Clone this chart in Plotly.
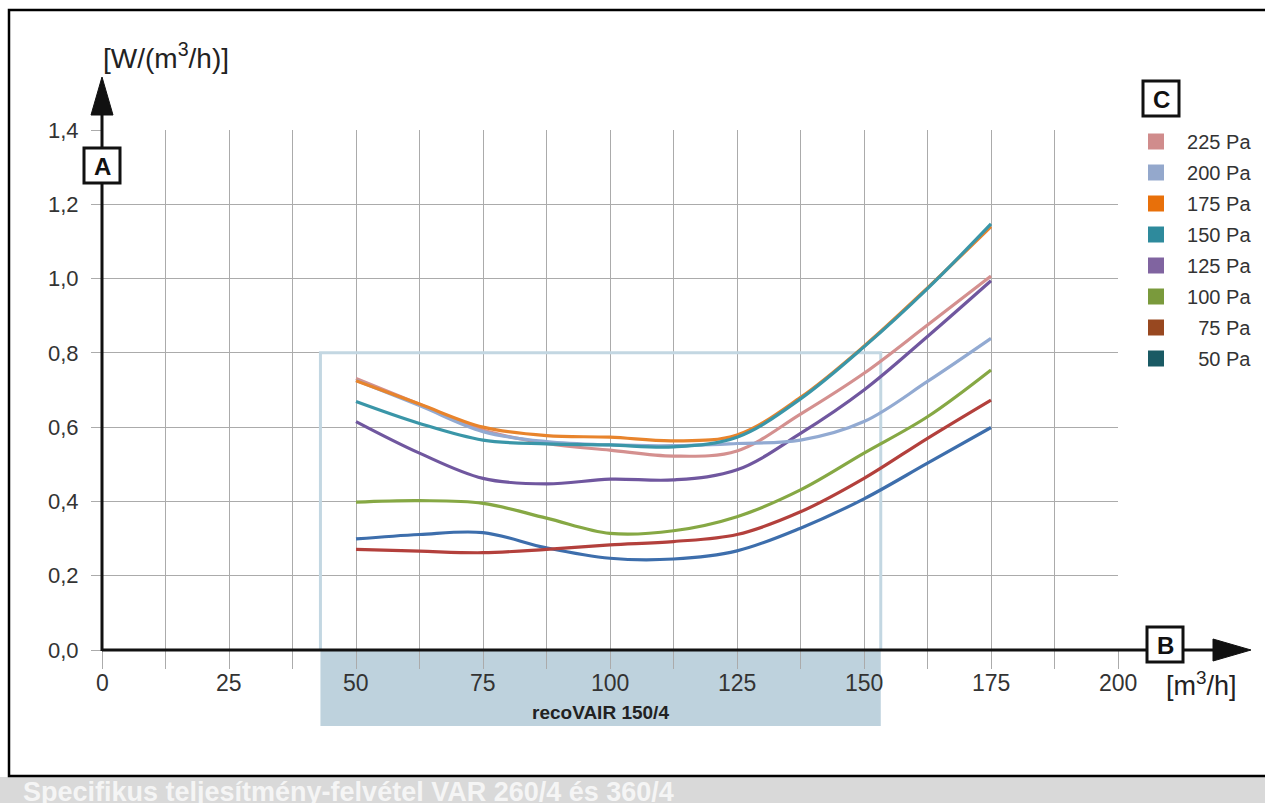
import plotly.graph_objects as go

# ---------------- data ----------------
flow = [50, 62.5, 75, 87.5, 100, 112.5, 125, 137.5, 150, 162.5, 175]
p225 = [0.731, 0.662, 0.592, 0.556, 0.538, 0.522, 0.536, 0.635, 0.745, 0.875, 1.007]
p200 = [0.726, 0.658, 0.588, 0.561, 0.552, 0.550, 0.556, 0.565, 0.615, 0.723, 0.839]
p175 = [0.725, 0.662, 0.600, 0.577, 0.573, 0.563, 0.579, 0.680, 0.818, 0.975, 1.140]
p150 = [0.669, 0.610, 0.565, 0.555, 0.552, 0.547, 0.573, 0.676, 0.816, 0.973, 1.147]
p125 = [0.615, 0.530, 0.462, 0.447, 0.460, 0.458, 0.485, 0.583, 0.700, 0.844, 0.994]
p100 = [0.398, 0.402, 0.395, 0.355, 0.314, 0.321, 0.359, 0.431, 0.530, 0.628, 0.754]
p75 = [0.271, 0.266, 0.262, 0.271, 0.283, 0.292, 0.311, 0.372, 0.462, 0.570, 0.673]
p50 = [0.299, 0.311, 0.316, 0.275, 0.247, 0.245, 0.267, 0.328, 0.407, 0.503, 0.599]

series_names = ["225 Pa", "200 Pa", "175 Pa", "150 Pa", "125 Pa", "100 Pa", "75 Pa", "50 Pa"]
series_values = [p225, p200, p175, p150, p125, p100, p75, p50]
legend_colors = ["#d08c8c", "#94a8cc", "#e8700a", "#2e8a9c", "#8064a0", "#7a9a3c", "#984820", "#1a5a64"]
line_colors = ["#d4908f", "#92aad2", "#e8842c", "#3a96a8", "#70579f", "#86a844", "#b3403c", "#3d6eac"]
draw_order = ["50 Pa", "75 Pa", "100 Pa", "125 Pa", "225 Pa", "200 Pa", "175 Pa", "150 Pa"]

x_ticks = [0, 25, 50, 75, 100, 125, 150, 175, 200]
x_tick_labels = ["0", "25", "50", "75", "100", "125", "150", "175", "200"]
y_ticks = [0.0, 0.2, 0.4, 0.6, 0.8, 1.0, 1.2, 1.4]
band_x = [43, 153.3]      # recoVAIR 150/4 operating range
band_ymax = 0.8
band_label = "recoVAIR 150/4"
caption = "Specifikus teljesítmény-felvétel VAR 260/4 és 360/4"

# ---------------- geometry ----------------
W, H = 1265, 803
L, R, T, B = 102, 1118, 130, 650


def fx(p):
    return (p - L) / (R - L)


def fy(p):
    return (B - p) / (B - T)


FONT = "Liberation Sans, Arial, sans-serif"
NB = "\u00a0"
fig = go.Figure()

# curves
for name in draw_order:
    i = series_names.index(name)
    fig.add_trace(go.Scatter(
        x=flow, y=series_values[i], mode="lines", name=name, showlegend=False,
        line=dict(color=line_colors[i], width=3.2, shape="spline", smoothing=1.0),
        hoverinfo="x+y+name"))

# legend entries (squares), right-aligned labels
for i, name in enumerate(series_names):
    pad = NB * (2 + 2 * (6 - len(name)))
    fig.add_trace(go.Scatter(
        x=[None], y=[None], mode="markers", name=pad + name, legendgroup=name,
        marker=dict(symbol="square", size=17, color=legend_colors[i])))

shapes = []
# outer frame and bottom caption band
shapes.append(dict(type="rect", xref="paper", yref="paper", x0=fx(0), x1=fx(W + 5),
                   y0=fy(777), y1=fy(H + 2), fillcolor="#d9d9d9", line=dict(width=0), layer="below"))
shapes.append(dict(type="rect", xref="paper", yref="paper", x0=fx(9), x1=fx(W + 20),
                   y0=fy(776), y1=fy(10), line=dict(color="black", width=2.5), layer="below"))
# band fill below axis
shapes.append(dict(type="rect", xref="paper", yref="paper",
                   x0=band_x[0] / 200, x1=band_x[1] / 200, y0=fy(650), y1=fy(726),
                   fillcolor="#bed2dd", line=dict(width=0), layer="below"))
# band outline inside plot
shapes.append(dict(type="path", xref="x", yref="y",
                   path=f"M{band_x[0]},0 L{band_x[0]},{band_ymax} L{band_x[1]},{band_ymax} L{band_x[1]},0",
                   line=dict(color="#c3d7e2", width=3), layer="between"))
# axes with arrows
shapes.append(dict(type="line", xref="paper", yref="paper", x0=fx(102), x1=fx(1215), y0=fy(650), y1=fy(650),
                   line=dict(color="#111", width=3)))
shapes.append(dict(type="path", xref="paper", yref="paper",
                   path=f"M{fx(1213)},{fy(639)} L{fx(1251)},{fy(650)} L{fx(1213)},{fy(661)} Z",
                   fillcolor="#111", line=dict(color="#111", width=1)))
shapes.append(dict(type="line", xref="paper", yref="paper", x0=fx(102), x1=fx(102), y0=fy(651), y1=fy(113),
                   line=dict(color="#111", width=3)))
shapes.append(dict(type="path", xref="paper", yref="paper",
                   path=f"M{fx(91)},{fy(115)} L{fx(102)},{fy(77)} L{fx(113)},{fy(115)} Z",
                   fillcolor="#111", line=dict(color="#111", width=1)))
# letter boxes
for (x0, x1, y0, y1) in [(84, 120, 148, 183), (1147, 1183, 627, 662), (1143, 1179, 81, 116)]:
    shapes.append(dict(type="rect", xref="paper", yref="paper", x0=fx(x0), x1=fx(x1), y0=fy(y1), y1=fy(y0),
                       fillcolor="white", line=dict(color="#111", width=3)))

annotations = [
    dict(text="[W/(m<sup>3</sup>/h)]", x=fx(166), y=fy(56), font=dict(size=28, color="#222")),
    dict(text="[m<sup>3</sup>/h]", x=fx(1201), y=fy(684), font=dict(size=27, color="#222")),
    dict(text="<b>A</b>", x=fx(102), y=fy(166), font=dict(size=24, color="#111")),
    dict(text="<b>B</b>", x=fx(1165), y=fy(645), font=dict(size=24, color="#111")),
    dict(text="<b>C</b>", x=fx(1161), y=fy(99), font=dict(size=24, color="#111")),
    dict(text=f"<b>{band_label}</b>", x=(band_x[0] + band_x[1]) / 400, y=fy(712),
         font=dict(size=19, color="#222")),
    dict(text=f"<b>{caption}</b>", x=fx(21), y=fy(792), xanchor="left",
         font=dict(size=27, color="#f5f5f5")),
]
# x tick labels placed from the tick values
for v, lab in zip(x_ticks, x_tick_labels):
    annotations.append(dict(text=lab, x=v / 200, y=fy(683), font=dict(size=23, color="#333")))
for a in annotations:
    a.setdefault("xanchor", "center")
    a.update(xref="paper", yref="paper", yanchor="middle", showarrow=False)
    a["font"]["family"] = FONT

grid = "#ababab"
fig.update_layout(
    width=W, height=H, autosize=False,
    margin=dict(l=L, r=W - R, t=T, b=H - B, pad=0, autoexpand=False),
    paper_bgcolor="white", plot_bgcolor="rgba(0,0,0,0)",
    font=dict(family=FONT, size=17, color="#333"),
    separators=",.",
    showlegend=True,
    legend=dict(x=fx(1136), xanchor="left", y=fy(122), yanchor="top",
                font=dict(size=20, color="#333"), tracegroupgap=2,
                bgcolor="rgba(0,0,0,0)", traceorder="grouped"),
    shapes=shapes, annotations=annotations,
    xaxis=dict(range=[0, 200], tickvals=x_ticks, showticklabels=False,
               showgrid=True, gridcolor=grid, gridwidth=1,
               ticks="outside", ticklen=18, tickcolor=grid, tickwidth=1,
               minor=dict(dtick=12.5, tick0=0, showgrid=True, gridcolor=grid, gridwidth=1,
                          ticks="outside", ticklen=18, tickcolor=grid, tickwidth=1),
               zeroline=False, showline=False, fixedrange=True),
    yaxis=dict(range=[0, 1.4], tickvals=y_ticks, tickformat=".1f", showgrid=True, gridcolor=grid,
               gridwidth=1, ticks="outside", ticklen=10, tickcolor=grid, tickwidth=1,
               tickfont=dict(size=22, color="#333"),
               zeroline=False, showline=False, ticklabelstandoff=8, fixedrange=True),
)

fig.write_html("out.html", config={"displayModeBar": False},
               post_script="document.body.style.margin='0';document.documentElement.style.overflow='hidden';")
